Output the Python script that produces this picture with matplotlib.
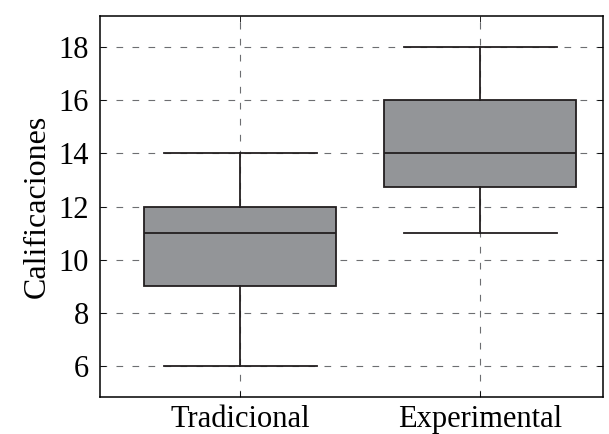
import matplotlib
matplotlib.use('Agg')
import matplotlib.pyplot as plt

plt.rcParams['font.family'] = ['Liberation Serif', 'DejaVu Serif']

groups = ['Tradicional', 'Experimental']
whislo = [6, 11]
q1 = [9, 12.75]
med = [11, 14]
q3 = [12, 16]
whishi = [14, 18]
yticks = [6, 8, 10, 12, 14, 16, 18]

stats = []
for i, g in enumerate(groups):
    stats.append({'label': g, 'whislo': whislo[i], 'q1': q1[i], 'med': med[i],
                  'q3': q3[i], 'whishi': whishi[i], 'fliers': []})

edge = '#231f20'
fig = plt.figure(figsize=(6.09, 4.34), dpi=100)
ax = fig.add_axes([0.164, 0.085, 0.826, 0.878])

ax.bxp(stats, positions=[1, 2], widths=0.8, capwidths=0.635, patch_artist=True,
       showfliers=False,
       boxprops=dict(facecolor='#939598', edgecolor=edge, linewidth=1.3),
       medianprops=dict(color=edge, linewidth=1.3),
       whiskerprops=dict(color=edge, linewidth=1.3),
       capprops=dict(color=edge, linewidth=1.3),
       zorder=3)

ax.set_xlim(0.415, 2.51)
ax.set_ylim(4.83, 19.17)
ax.set_yticks(yticks)
ax.set_xticks([1, 2])
ax.set_xticklabels(groups)
ax.grid(True, color='#6d6e71', linestyle=(0, (6, 8.4)), linewidth=0.8, zorder=0)
ax.set_axisbelow(True)
ax.tick_params(direction='in', length=4, width=0.6, labelsize=22, colors='black',
               top=True, right=True)
ax.tick_params(axis='y', pad=8)
ax.tick_params(axis='x', pad=6)
ax.set_ylabel('Calificaciones', fontsize=23, labelpad=5)
for s in ax.spines.values():
    s.set_linewidth(1.1)
    s.set_color('black')

fig.savefig('out.png', dpi=100)
